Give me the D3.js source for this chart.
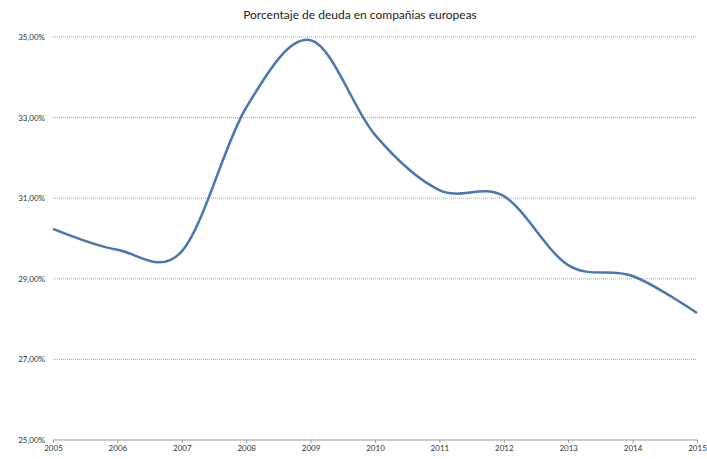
<!DOCTYPE html>
<html><head><meta charset="utf-8">
<script src="https://cdn.jsdelivr.net/npm/d3@7"></script>
<style>body{margin:0;background:#fff}svg{display:block}</style>
</head><body><svg id="c" width="707" height="459"></svg>
<script>
const years = [2005,2006,2007,2008,2009,2010,2011,2012,2013,2014,2015];
const debtPct = [30.24,29.72,29.68,33.25,34.92,32.57,31.2,31.05,29.34,29.07,28.15];
const yTicks = [25,27,29,31,33,35];
const title = "Porcentaje de deuda en compañias europeas";

const svg = d3.select("#c");
const font = "Lato, 'Open Sans', sans-serif";
const x = d3.scaleLinear().domain([2005,2015]).range([53,697]);
const y = d3.scaleLinear().domain([25,35]).range([440,37]);
const fmt = v => d3.format(".2f")(v).replace(".", ",") + "%";

// grid
svg.append("g").selectAll("line").data(yTicks.filter(d=>d>25)).join("line")
  .attr("x1",53).attr("x2",697).attr("y1",d=>y(d)).attr("y2",d=>y(d))
  .attr("stroke","#a8a8a8").attr("stroke-width",1).attr("stroke-dasharray","1,1");

// y axis labels
const ya = svg.append("g").attr("transform","translate(53,0)")
  .call(d3.axisLeft(y).tickValues(yTicks).tickFormat(fmt).tickSize(0).tickPadding(8));
ya.select(".domain").remove();
ya.selectAll("text").attr("font-family",font).attr("font-size",8).attr("fill","#333");

// x axis
const xa = svg.append("g").attr("transform","translate(0,440)")
  .call(d3.axisBottom(x).tickValues(years).tickFormat(d3.format("d")).tickSize(3).tickPadding(2));
xa.select(".domain").attr("stroke","#999").attr("d","M53,0H697");
xa.selectAll("line").attr("stroke","#999");
xa.selectAll("text").attr("font-family",font).attr("font-size",8).attr("fill","#333");

// line
const line = d3.line().x((d,i)=>x(years[i])).y(d=>y(d)).curve(d3.curveCardinal.tension(0));
svg.append("path").datum(debtPct).attr("d",line)
  .attr("fill","none").attr("stroke","#4a76b2").attr("stroke-width",2.5);

// title
svg.append("text").attr("x",360).attr("y",19).attr("text-anchor","middle")
  .attr("font-family",font).attr("font-size",12).attr("fill","#222").text(title);
</script></body></html>
